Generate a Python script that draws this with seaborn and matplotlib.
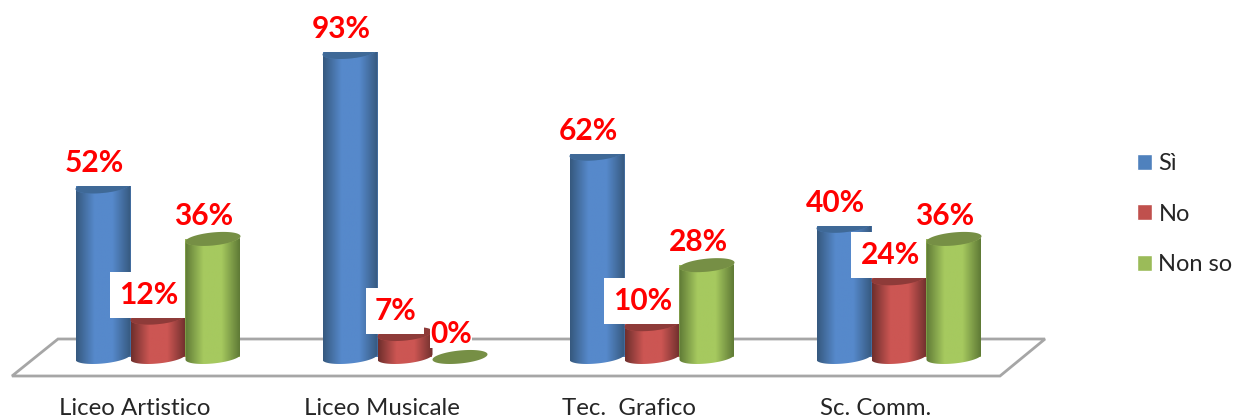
import numpy as np
import pandas as pd
import seaborn as sns
import matplotlib.pyplot as plt
from matplotlib.colors import LinearSegmentedColormap
from matplotlib.patches import Polygon, Rectangle
from matplotlib.transforms import IdentityTransform

categories = ['Liceo Artistico', 'Liceo Musicale', 'Tec.  Grafico', 'Sc. Comm.']
series = ['Sì', 'No', 'Non so']
si_values = [52, 93, 62, 40]
no_values = [12, 7, 10, 24]
nonso_values = [36, 0, 28, 36]

colors = ['#4f81bd', '#c0504d', '#9bbb59']
edge_colors = ['#36597f', '#6f2f2d', '#5f7a36']
mid_colors = ['#5689cb', '#cc5653', '#a6c95f']
top_colors = ['#3f6997', '#8e3b39', '#768f45']

W, H = 1236, 419

sns.set_style('white')
plt.rcParams['font.family'] = ['Lato', 'DejaVu Sans']

df = pd.DataFrame({
    'cat': categories * 3,
    'serie': np.repeat(series, 4),
    'val': si_values + no_values + nonso_values,
})

fig = plt.figure(figsize=(W / 100, H / 100), dpi=100)
ax = fig.add_axes([34.5 / W, (H - 376) / H, 988 / W, 366 / H])

sns.barplot(data=df, x='cat', y='val', hue='serie', hue_order=series,
            palette=colors, width=0.668, gap=0, saturation=1, ax=ax,
            order=categories, errorbar=None)
ax.set_xlim(-0.5, 3.5)
ax.set_ylim(-5.8, 105.8)
xlim, ylim = ax.get_xlim(), ax.get_ylim()
ax.set_xlabel('')
ax.set_ylabel('')
ax.set_yticks([])
sns.despine(ax=ax, left=True, bottom=True)
ax.tick_params(axis='x', length=0, pad=16, labelsize=17.3, labelcolor='#262626')

# tick labels sit to the left of the group centre in the original
shift = plt.matplotlib.transforms.ScaledTranslation(-23 / 100, 0, fig.dpi_scale_trans)
for lab in ax.get_xticklabels():
    lab.set_transform(lab.get_transform() + shift)

# floor of the 3d plot
corners = [(12, 376), (1000, 376), (1045, 339), (58, 339)]
floor = Polygon([(x / W, 1 - y / H) for x, y in corners], closed=True, facecolor='white',
                edgecolor='#a6a6a6', linewidth=2, transform=fig.transFigure, zorder=-1)
fig.add_artist(floor)
ax.patch.set_visible(False)

ry = 6.5 / 3.28   # ellipse half height in data units
tilt = 0.8
t = np.linspace(0, 2 * np.pi, 120)
for i, cont in enumerate(ax.containers):
    z = 5 if i == 2 else 3
    cmap = LinearSegmentedColormap.from_list(
        'c', [edge_colors[i], mid_colors[i], mid_colors[i], edge_colors[i]],)
    for bar in cont:
        bar.set_zorder(z)
        bar.set_linewidth(0)
        x0, w, h = bar.get_x(), bar.get_width(), bar.get_height()
        cx, a = x0 + w / 2, w / 2
        ex = cx + a * np.cos(t)
        ey = ry * np.sin(t) + tilt * np.cos(t)
        if h > 0:
            low = t[(t >= np.pi)]
            lx = cx + a * np.cos(low)
            ly = ry * np.sin(low) + tilt * np.cos(low)
            body = np.vstack([np.column_stack([lx, ly]),
                              np.column_stack([lx[::-1], ly[::-1] + h])])
            im = ax.imshow(np.linspace(0, 1, 120)[None, :], cmap=cmap, aspect='auto',
                           extent=(x0, x0 + w, -ry - tilt, h + ry + tilt),
                           interpolation='bilinear', zorder=z)
            clip = Polygon(body, closed=True, transform=ax.transData)
            im.set_clip_path(clip)
        ax.add_patch(Polygon(np.column_stack([ex, ey + h]), closed=True, facecolor=top_colors[i],
                             edgecolor='none', zorder=z + 0.1))
ax.set_xlim(xlim)
ax.set_ylim(ylim)

# value labels, blue and red have a white box that hides the bar behind
rend = fig.canvas.get_renderer()
for i, cont in enumerate(ax.containers):
    for bar in cont:
        h = bar.get_height()
        box = dict(boxstyle='square,pad=0', facecolor='white', edgecolor='none') if i == 2 else None
        ann = ax.annotate('{:.0f}%'.format(h), (bar.get_x() + bar.get_width() / 2, h),
                          xytext=(-9, 23), textcoords='offset pixels', ha='center', va='center',
                          fontsize=21.5, fontweight='bold', color='#ff0000', bbox=box,
                          zorder=7, annotation_clip=False)
        if i < 2:
            ext = ann.get_window_extent(rend)
            ymid = (ext.y0 + ext.y1) / 2
            ax.add_patch(Rectangle((ext.x0 - 9, ymid - 23), ext.width + 16, 46, facecolor='white',
                                   edgecolor='none', transform=IdentityTransform(), zorder=4,
                                   clip_on=False))

ax.legend(loc='upper left', bbox_to_anchor=(1137 / W, 1 - 153 / H), bbox_transform=fig.transFigure,
          frameon=False, fontsize=17, handlelength=0.64, handleheight=0.64, handletextpad=0.27,
          labelspacing=1.25, borderpad=0, borderaxespad=0, title=None, labelcolor='#262626')

fig.savefig('out.png', dpi=100)
